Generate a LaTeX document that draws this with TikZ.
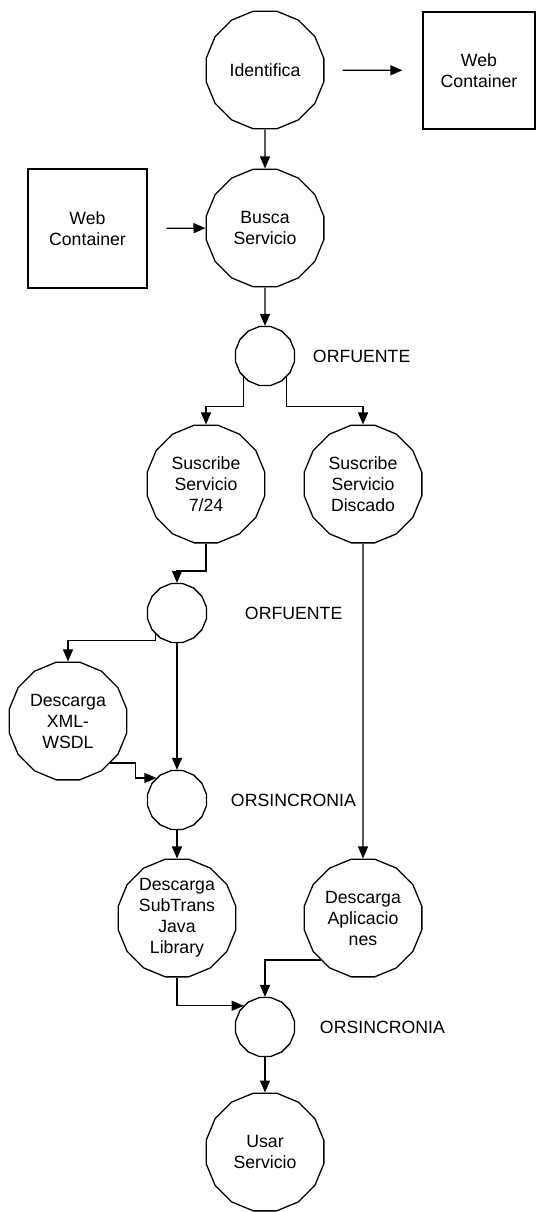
\documentclass[tikz,border=0pt]{standalone}
\usepackage{fontspec}
\setmainfont{Liberation Sans}
\usetikzlibrary{shapes.geometric,arrows.meta}

\begin{document}
\begin{tikzpicture}
  [x=1pt,y=-1pt,line width=1.3pt,>={Triangle[length=12pt,width=10pt]},
   every node/.style={font=\fontsize{17.7}{21}\selectfont,align=center,line width=1.3pt},
   proc/.style={regular polygon,regular polygon sides=16,draw,minimum size=120pt,inner sep=0pt},
   junc/.style={regular polygon,regular polygon sides=16,draw,minimum size=60pt,inner sep=0pt},
   store/.style={rectangle,draw,minimum width=119pt,minimum height=119pt},
   lbl/.style={anchor=west}]
  \useasboundingbox (0,0) rectangle (536,1212);
  % processes
  \node[proc] (iden) at (265,70) {Identifica};
  \node[proc] (busca) at (265,228) {Busca\\Servicio};
  \node[proc] (sus1) at (206,484) {Suscribe\\Servicio\\7/24};
  \node[proc] (sus2) at (363,484) {Suscribe\\Servicio\\Discado};
  \node[proc] (xml) at (68,721) {Descarga\\XML-\\WSDL};
  \node[proc] (subt) at (177,918) {Descarga\\SubTrans\\Java\\Library};
  \node[proc] (apli) at (363,918) {Descarga\\Aplicacio\\nes};
  \node[proc] (usar) at (265,1152) {Usar\\Servicio};
  % containers
  \node[store,minimum width=112pt,minimum height=117pt] (wc1) at (479,70.5) {Web\\Container};
  \node[store] (wc2) at (87.5,228.5) {Web\\Container};
  % junctions
  \node[junc] (orf1) at (265,356) {};
  \node[junc] (orf2) at (177,613) {};
  \node[junc] (ors1) at (177,800) {};
  \node[junc] (ors2) at (265,1027) {};
  \node[lbl] (torf1) at (309,356) {ORFUENTE};
  \node[lbl] (torf2) at (241,613) {ORFUENTE};
  \node[lbl] (tors1) at (227,800) {ORSINCRONIA};
  \node[lbl] (tors2) at (316,1027) {ORSINCRONIA};
  % flows
  \draw[->,shorten <=18pt,shorten >=20pt] (iden) -- (wc1);
  \draw[->,shorten <=19pt] (wc2) -- (busca);
  \draw[->] (iden) -- (busca);
  \draw[->] (busca) -- (orf1);
  \draw[->] (orf1.225) |- ([yshift=18pt]sus1.north) -- (sus1.north);
  \draw[->] (orf1.315) |- ([yshift=18pt]sus2.north) -- (sus2.north);
  \draw[->] (sus1.south) |- ([yshift=12pt]orf2.north) -- (orf2.north);
  \draw[->] (orf2.225) |- ([yshift=21pt]xml.north) -- (xml.north);
  \draw[->] (orf2) -- (ors1);
  \draw[->] (xml.-45) -| ([xshift=-21pt]ors1.133) -- (ors1.133);
  \draw[->] (sus2) -- (apli);
  \draw[->] (ors1) -- (subt);
  \draw[->] (subt.south) |- (ors2.135);
  \draw[->] (apli.225) -| (ors2.north);
  \draw[->] (ors2) -- (usar);
\end{tikzpicture}
\end{document}
